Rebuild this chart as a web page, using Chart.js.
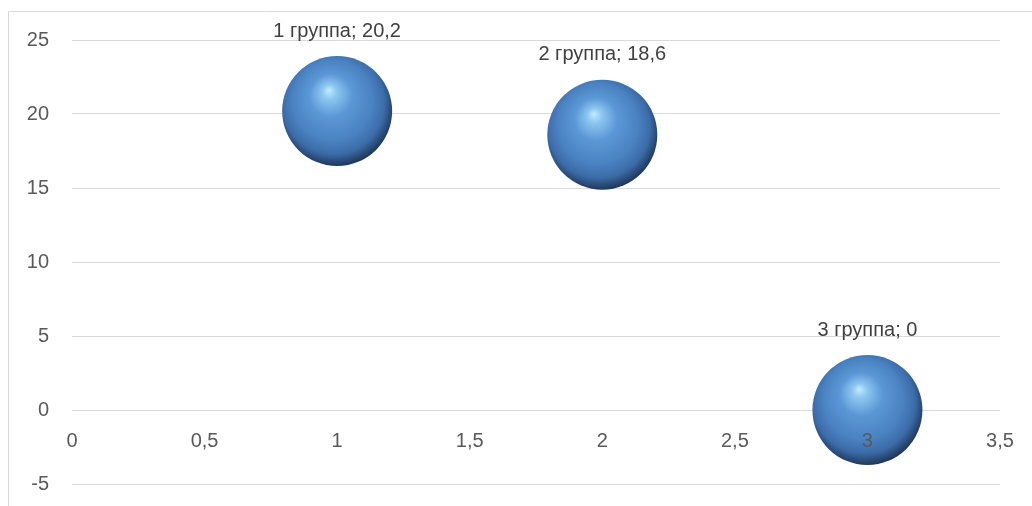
<!DOCTYPE html>
<html>
<head>
<meta charset="utf-8">
<script src="https://cdn.jsdelivr.net/npm/chart.js@4/dist/chart.umd.min.js"></script>
<style>
    body { margin: 0; background: #fff; }
    canvas { display: block; }
</style>
</head>
<body>
<canvas id="groups-chart" width="1032" height="506"></canvas>
<script>
const groupNames = ['1 группа', '2 группа', '3 группа'];
const xValues = [1, 2, 3];
const yValues = [20.2, 18.6, 0];

const fontFamily = "'Liberation Sans', 'DejaVu Sans', sans-serif";
const textColor = '#595959';
const bubbleR = 55;

function commaNum(v) {
    return String(v).replace('.', ',');
}

// шар с бликом сверху слева, как в Excel
function sphereFill(ctx) {
    if (ctx.type !== 'data') return '#5b9bd5';
    const chart = ctx.chart;
    const sx = chart.scales.x, sy = chart.scales.y;
    if (!sx || !sy || !ctx.parsed) return '#5b9bd5';
    const cx = sx.getPixelForValue(ctx.parsed.x);
    const cy = sy.getPixelForValue(ctx.parsed.y);
    if (!isFinite(cx) || !isFinite(cy)) return '#5b9bd5'; // шкалы ещё не размечены
    const r = bubbleR;
    const g = chart.ctx.createRadialGradient(cx - r * 0.15, cy - r * 0.38, 0, cx - r * 0.05, cy - r * 0.1, r * 1.12);
    g.addColorStop(0, '#c2ecff');
    g.addColorStop(0.12, '#8cc6f0');
    g.addColorStop(0.35, '#5b97d6');
    g.addColorStop(0.65, '#4a82c2');
    g.addColorStop(0.83, '#3c6ca8');
    g.addColorStop(0.95, '#25446e');
    g.addColorStop(1, '#1c3352');
    return g;
}

const frame = {
    id: 'frame',
    beforeDraw(chart) {
        const c = chart.ctx;
        c.save();
        c.strokeStyle = '#d9d9d9';
        c.lineWidth = 1;
        c.beginPath();
        c.moveTo(8.5, 506);
        c.lineTo(8.5, 11.5);
        c.lineTo(1032, 11.5);
        c.stroke();
        c.restore();
    }
};

const bubbleLabels = {
    id: 'bubbleLabels',
    afterDatasetsDraw(chart) {
        const c = chart.ctx;
        const meta = chart.getDatasetMeta(0);
        c.save();
        c.font = '20px ' + fontFamily;
        c.fillStyle = '#404040';
        c.textAlign = 'center';
        c.textBaseline = 'middle';
        meta.data.forEach((el, i) => {
            c.fillText(groupNames[i] + '; ' + commaNum(yValues[i]), el.x, el.y - 80);
        });
        c.restore();
    }
};

new Chart(document.getElementById('groups-chart'), {
    type: 'bubble',
    data: {
        datasets: [{
            label: 'Группы',
            data: xValues.map((x, i) => ({ x: x, y: yValues[i] })),
            radius: bubbleR,
            backgroundColor: sphereFill,
            borderWidth: 0,
            hoverRadius: 0
        }]
    },
    options: {
        responsive: false,
        animation: false,
        events: [],
        layout: { autoPadding: false, padding: { left: 0, right: 32, top: 40, bottom: 22 } },
        plugins: { legend: { display: false }, tooltip: { enabled: false } },
        scales: {
            x: {
                type: 'linear',
                position: { y: 0 },
                min: 0,
                max: 3.5,
                grid: { display: false, drawTicks: false },
                border: { display: false },
                afterFit(scale) { scale.paddingLeft = 0; scale.paddingRight = 0; },
                ticks: {
                    z: 1, // подписи оси поверх шаров, как в оригинале
                    stepSize: 0.5,
                    padding: 19,
                    color: textColor,
                    font: { family: fontFamily, size: 20 },
                    maxRotation: 0,
                    callback: v => commaNum(v)
                }
            },
            y: {
                min: -5,
                max: 25,
                grid: { color: '#d9d9d9', lineWidth: 1, drawTicks: false },
                border: { display: false },
                afterFit(scale) {
                    scale.width = 72;
                    scale.paddingTop = 0;
                    scale.paddingBottom = 0;
                },
                ticks: {
                    stepSize: 5,
                    padding: 23,
                    color: textColor,
                    font: { family: fontFamily, size: 20 },
                    callback: v => commaNum(v)
                }
            }
        }
    },
    plugins: [frame, bubbleLabels]
});
</script>
</body>
</html>
